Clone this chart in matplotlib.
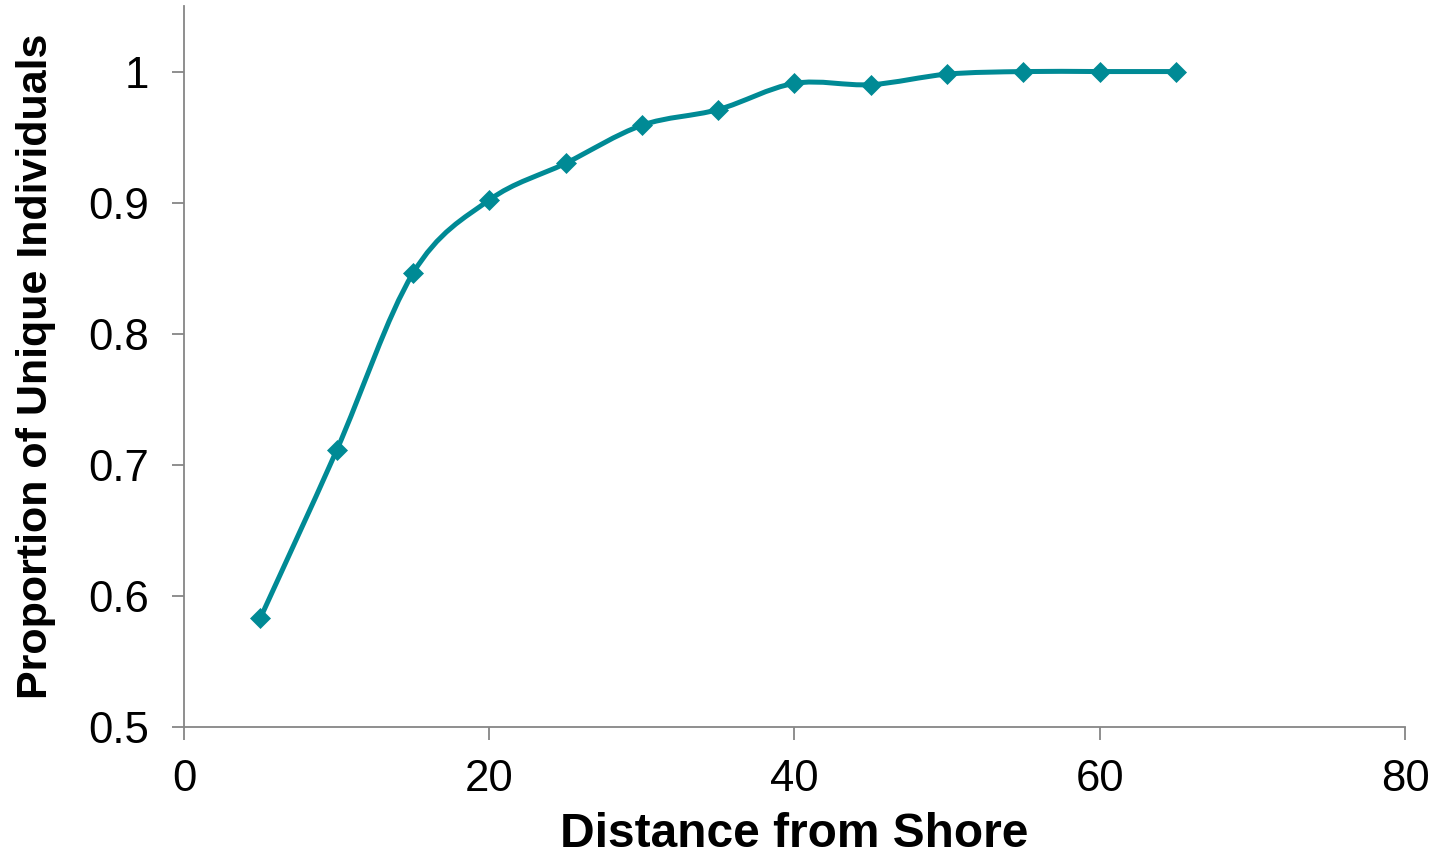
import matplotlib
matplotlib.use("Agg")
import matplotlib.pyplot as plt
from matplotlib.path import Path
from matplotlib.patches import PathPatch
import numpy as np

plt.rcParams['font.family'] = ['Liberation Sans', 'DejaVu Sans']

# Data
distance = [5, 10, 15, 20, 25, 30, 35, 40, 45, 50, 55, 60, 65]
proportion = [0.583, 0.711, 0.846, 0.902, 0.930, 0.959, 0.971,
              0.991, 0.990, 0.998, 1.000, 1.000, 1.000]
x_ticks = [0, 20, 40, 60, 80]
y_ticks = [0.5, 0.6, 0.7, 0.8, 0.9, 1.0]
y_tick_labels = ['0.5', '0.6', '0.7', '0.8', '0.9', '1']

line_color = '#008A95'
axis_color = '#868686'

fig = plt.figure(figsize=(14.35, 8.58), dpi=100)
ax = fig.add_axes([0.1282, 0.1527, 0.8509, 0.8403])

# Excel-style smoothed line: cubic Bezier segments through each point
pts = np.column_stack([distance, proportion])
n = len(pts)
verts = [pts[0]]
codes = [Path.MOVETO]
for i in range(n - 1):
    p0 = pts[max(i - 1, 0)]
    p1 = pts[i]
    p2 = pts[i + 1]
    p3 = pts[min(i + 2, n - 1)]
    c1 = p1 + (p2 - p0) / 6.0
    c2 = p2 - (p3 - p1) / 6.0
    verts += [c1, c2, p2]
    codes += [Path.CURVE4] * 3
curve = PathPatch(Path(verts, codes), facecolor='none', edgecolor=line_color,
                  linewidth=3.6, capstyle='round', joinstyle='round')
ax.add_patch(curve)
ax.plot(distance, proportion, linestyle='none', marker='D', markersize=10.5,
        markeredgewidth=0.5, color=line_color)

ax.set_xlim(0, 80)
ax.set_ylim(0.5, 1.05)
ax.set_xticks(x_ticks)
ax.set_yticks(y_ticks)
ax.set_yticklabels(y_tick_labels)

for side in ['top', 'right']:
    ax.spines[side].set_visible(False)
for side in ['left', 'bottom']:
    ax.spines[side].set_color(axis_color)
    ax.spines[side].set_linewidth(1.3)

ax.tick_params(axis='both', direction='out', length=9, width=1.3,
               color=axis_color, labelsize=31.5, labelcolor='black')
ax.tick_params(axis='y', pad=16)
ax.tick_params(axis='x', pad=14)

ax.set_xlabel('Distance from Shore', fontsize=34.5, fontweight='bold', labelpad=9)
ax.set_ylabel('Proportion of Unique Individuals', fontsize=31,
              fontweight='bold', labelpad=23)

fig.savefig('out.png', dpi=100)
